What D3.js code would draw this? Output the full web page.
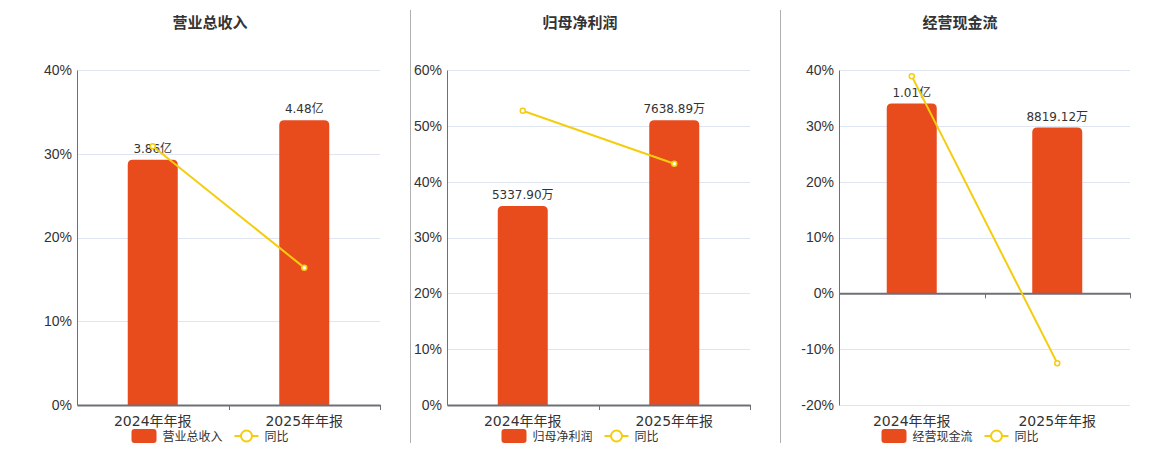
<!DOCTYPE html>
<html>
<head>
<meta charset="utf-8">
<script src="https://cdn.jsdelivr.net/npm/d3@7"></script>
<style>
  body { margin: 0; background: #fff; }
  svg { display: block; font-family: "DejaVu Sans", "Noto Sans CJK SC", sans-serif; }
</style>
</head>
<body>
<svg id="chart" width="1160" height="450"></svg>
<script>
// categories shared by all three panels
const categories = ["2024年年报", "2025年年报"];

// bar values, in 万元
const revenueValues = [38600, 44800];
const profitValues = [5337.90, 7638.89];
const cashValues = [10100, 8819.12];

// 同比 (%)
const revenueYoy = [30.9, 16.4];
const profitYoy = [52.7, 43.2];
const cashYoy = [38.9, -12.5];

// percent axis ticks per panel
const revenueTicks = [0, 10, 20, 30, 40];
const profitTicks = [0, 10, 20, 30, 40, 50, 60];
const cashTicks = [-20, -10, 0, 10, 20, 30, 40];

const titles = ["营业总收入", "归母净利润", "经营现金流"];

const color = {
  bar: "#e84b1c",
  line: "#f5cd0f",
  grid: "#e0e6f1",
  axis: "#6e7079",
  text: "#333",
  divider: "#b0b0b0"
};

// layout of each panel (plot left/right, centre for title + legend)
const panels = [
  { left: 77, right: 380, centre: 210, bars: revenueValues, yoy: revenueYoy, ticks: revenueTicks, title: titles[0] },
  { left: 447, right: 750, centre: 580, bars: profitValues, yoy: profitYoy, ticks: profitTicks, title: titles[1] },
  { left: 839, right: 1130, centre: 960, bars: cashValues, yoy: cashYoy, ticks: cashTicks, title: titles[2] }
];

const plotTop = 70, plotBottom = 405;
const barWidth = 50;

const fmt = (v) => v >= 10000 ? (v / 10000).toFixed(2) + "亿" : v.toFixed(2) + "万";

// bar path with rounded top corners
function barPath(x, y0, y1, w, r) {
  const h = y0 - y1;
  r = Math.min(r, h);
  return `M${x},${y0}V${y1 + r}Q${x},${y1} ${x + r},${y1}H${x + w - r}Q${x + w},${y1} ${x + w},${y1 + r}V${y0}Z`;
}

const svg = d3.select("#chart");

// dividers between panels
[410.5, 780.5].forEach((x) => {
  svg.append("line")
    .attr("x1", x).attr("x2", x)
    .attr("y1", 10).attr("y2", 443)
    .attr("stroke", color.divider)
    .attr("stroke-width", 1);
});

panels.forEach((p) => {
  const g = svg.append("g");
  const yMin = d3.min(p.ticks), yMax = d3.max(p.ticks);

  const x = d3.scaleBand().domain(categories).range([p.left, p.right]);

  const y = d3.scaleLinear().domain([yMin, yMax]).range([plotBottom, plotTop]);

  // hidden bar axis, zero aligned with the percent axis
  const barTop = d3.max(p.bars) / 0.85;
  const yBar = d3.scaleLinear()
    .domain([yMin / yMax * barTop, barTop])
    .range([plotBottom, plotTop]);

  // title
  g.append("text")
    .attr("x", p.centre).attr("y", 28)
    .attr("text-anchor", "middle")
    .style("font-size", "15px")
    .style("font-weight", "bold")
    .style("fill", color.text)
    .text(p.title);

  // grid lines
  g.append("g")
    .selectAll("line")
    .data(p.ticks.filter((t) => t !== 0))
    .join("line")
    .attr("x1", p.left + 0.5).attr("x2", p.right)
    .attr("y1", (d) => Math.round(y(d)) + 0.5)
    .attr("y2", (d) => Math.round(y(d)) + 0.5)
    .attr("stroke", color.grid);

  // y axis (percent)
  g.append("g")
    .attr("transform", `translate(${p.left},0)`)
    .call(d3.axisLeft(y).tickValues(p.ticks).tickFormat((d) => d + "%").tickSize(0).tickPadding(5))
    .call((a) => a.select(".domain").attr("stroke", color.axis))
    .call((a) => a.selectAll("text").style("font-size", "14px").style("fill", color.text).attr("font-family", null));

  // bars
  g.append("g")
    .selectAll("path")
    .data(p.bars)
    .join("path")
    .attr("fill", color.bar)
    .attr("d", (d, i) => {
      const cx = x(categories[i]) + x.bandwidth() / 2;
      return barPath(cx - barWidth / 2, yBar(0), yBar(d), barWidth, 5);
    });

  // bar labels
  g.append("g")
    .selectAll("text")
    .data(p.bars)
    .join("text")
    .attr("x", (d, i) => x(categories[i]) + x.bandwidth() / 2)
    .attr("y", (d) => yBar(d) - 7)
    .attr("text-anchor", "middle")
    .style("font-size", "12px")
    .style("fill", color.text)
    .text((d) => fmt(d));

  // x axis on the zero line
  g.append("g")
    .attr("transform", `translate(0,${y(0)})`)
    .call(d3.axisBottom(x).tickSize(0).tickFormat(""))
    .call((a) => a.select(".domain").attr("stroke", color.axis).attr("stroke-width", 2))
    .call((a) => a.selectAll(".tick").remove());

  // band boundary ticks
  g.append("g")
    .selectAll("line")
    .data([p.left + x.bandwidth(), p.right])
    .join("line")
    .attr("x1", (d) => Math.round(d) + 0.5).attr("x2", (d) => Math.round(d) + 0.5)
    .attr("y1", y(0)).attr("y2", y(0) + 5)
    .attr("stroke", color.axis);

  // category labels at the bottom
  g.append("g")
    .selectAll("text")
    .data(categories)
    .join("text")
    .attr("x", (d) => x(d) + x.bandwidth() / 2)
    .attr("y", 426)
    .attr("text-anchor", "middle")
    .style("font-size", "14px")
    .style("fill", color.text)
    .text((d) => d);

  // 同比 line
  const line = d3.line()
    .x((d, i) => x(categories[i]) + x.bandwidth() / 2)
    .y((d) => y(d));

  g.append("path")
    .datum(p.yoy)
    .attr("fill", "none")
    .attr("stroke", color.line)
    .attr("stroke-width", 2)
    .attr("d", line);

  g.append("g")
    .selectAll("circle")
    .data(p.yoy)
    .join("circle")
    .attr("cx", (d, i) => x(categories[i]) + x.bandwidth() / 2)
    .attr("cy", (d) => y(d))
    .attr("r", 2.5)
    .attr("fill", "#fff")
    .attr("stroke", color.line)
    .attr("stroke-width", 1.5);

  // legend
  const legend = g.append("g");
  const nameW = p.title.length * 12;
  const total = 25 + 6 + nameW + 12 + 24 + 6 + 24;
  let lx = p.centre - total / 2;

  legend.append("rect")
    .attr("x", lx).attr("y", 429)
    .attr("width", 25).attr("height", 14)
    .attr("rx", 3)
    .attr("fill", color.bar);
  lx += 31;
  legend.append("text")
    .attr("x", lx).attr("y", 441)
    .style("font-size", "12px")
    .style("fill", color.text)
    .text(p.title);
  lx += nameW + 12;
  legend.append("line")
    .attr("x1", lx).attr("x2", lx + 24)
    .attr("y1", 436).attr("y2", 436)
    .attr("stroke", color.line)
    .attr("stroke-width", 2);
  legend.append("circle")
    .attr("cx", lx + 12).attr("cy", 436)
    .attr("r", 5.5)
    .attr("fill", "#fff")
    .attr("stroke", color.line)
    .attr("stroke-width", 2);
  lx += 30;
  legend.append("text")
    .attr("x", lx).attr("y", 441)
    .style("font-size", "12px")
    .style("fill", color.text)
    .text("同比");
});
</script>
</body>
</html>
